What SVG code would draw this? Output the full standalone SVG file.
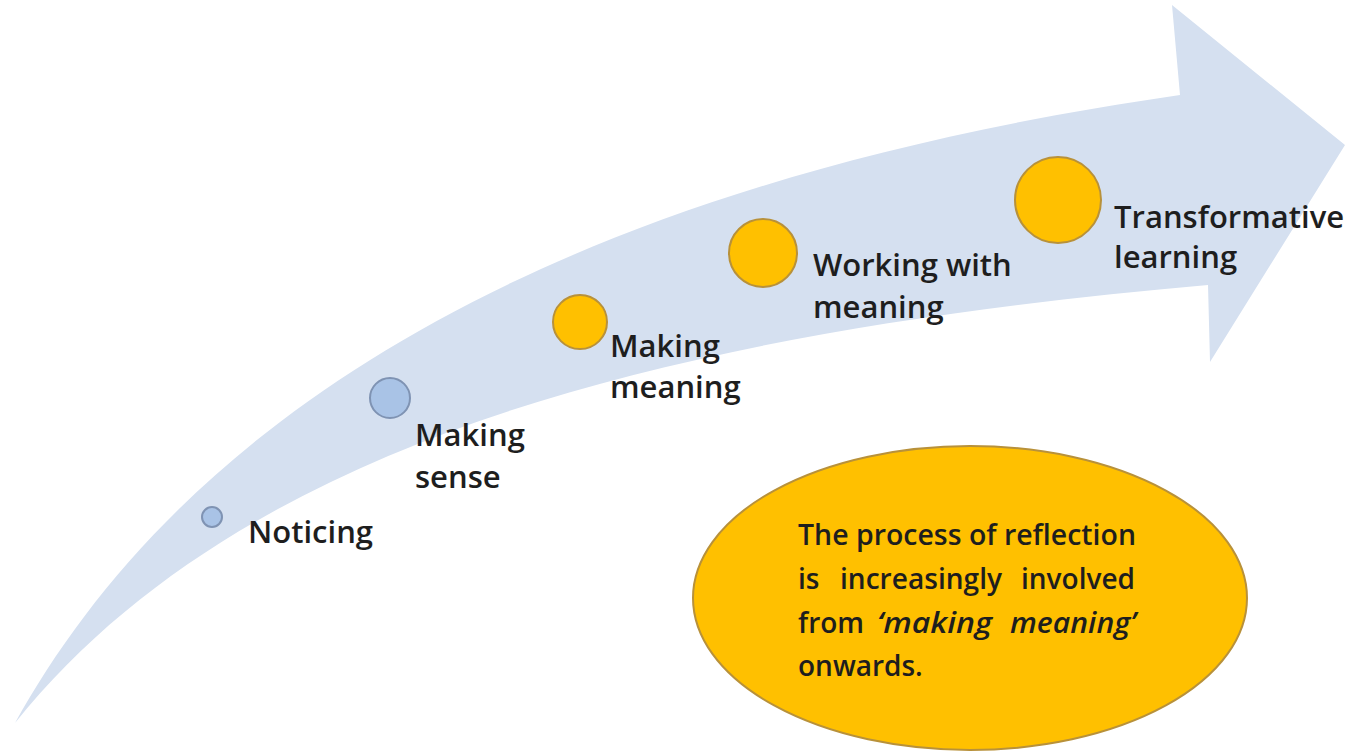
<svg xmlns="http://www.w3.org/2000/svg" width="1353" height="753" viewBox="0 0 1353 753">
<style>
.lbl{font-family:"Open Sans","Liberation Sans",sans-serif;font-size:31px;font-weight:600;fill:#1e1e1e}
.note{font-family:"Open Sans","Liberation Sans",sans-serif;font-size:28px;font-weight:600;fill:#1e1e1e}
.blue{fill:#a9c3e6;stroke:#7f93b3;stroke-width:2}
.gold{fill:#ffc000;stroke:#b8913a;stroke-width:2}
</style>
<rect width="1353" height="753" fill="#ffffff"/>
<g id="arrow">
<path d="M15,723 C150,480 450,200 1180,95 L1172,5 L1345,145 L1210,362 L1208,285 C700,330 250,430 15,723 Z" fill="#d5e0f0"/>
</g>
<g id="noticing">
<circle class="blue" cx="212" cy="517" r="10"/>
<text class="lbl" x="248" y="543">Noticing</text>
</g>
<g id="making-sense">
<circle class="blue" cx="390" cy="398" r="20"/>
<text class="lbl" x="415" y="446">Making</text>
<text class="lbl" x="415" y="488">sense</text>
</g>
<g id="making-meaning">
<circle class="gold" cx="580" cy="322" r="27"/>
<text class="lbl" x="610" y="357">Making</text>
<text class="lbl" x="610" y="398">meaning</text>
</g>
<g id="working-with-meaning">
<circle class="gold" cx="763" cy="253" r="34"/>
<text class="lbl" x="813" y="276">Working with</text>
<text class="lbl" x="813" y="318">meaning</text>
</g>
<g id="transformative-learning">
<circle class="gold" cx="1058" cy="200" r="43"/>
<text class="lbl" x="1114" y="228">Transformative</text>
<text class="lbl" x="1114" y="268">learning</text>
</g>
<g id="note">
<ellipse class="gold" cx="970" cy="598" rx="277" ry="152"/>
<text class="note" x="798" y="545" textLength="338" lengthAdjust="spacingAndGlyphs">The process of reflection</text>
<text class="note" x="798" y="589">is</text>
<text class="note" x="840" y="589" textLength="162" lengthAdjust="spacingAndGlyphs">increasingly</text>
<text class="note" x="1021" y="589" textLength="114" lengthAdjust="spacingAndGlyphs">involved</text>
<text class="note" x="798" y="633">from</text>
<text class="note" x="877" y="633" font-style="italic" textLength="115" lengthAdjust="spacingAndGlyphs">‘making</text>
<text class="note" x="1010" y="633" font-style="italic" textLength="126" lengthAdjust="spacingAndGlyphs">meaning’</text>
<text class="note" x="798" y="676">onwards.</text>
</g>
<g id="connectors"></g>
</svg>
